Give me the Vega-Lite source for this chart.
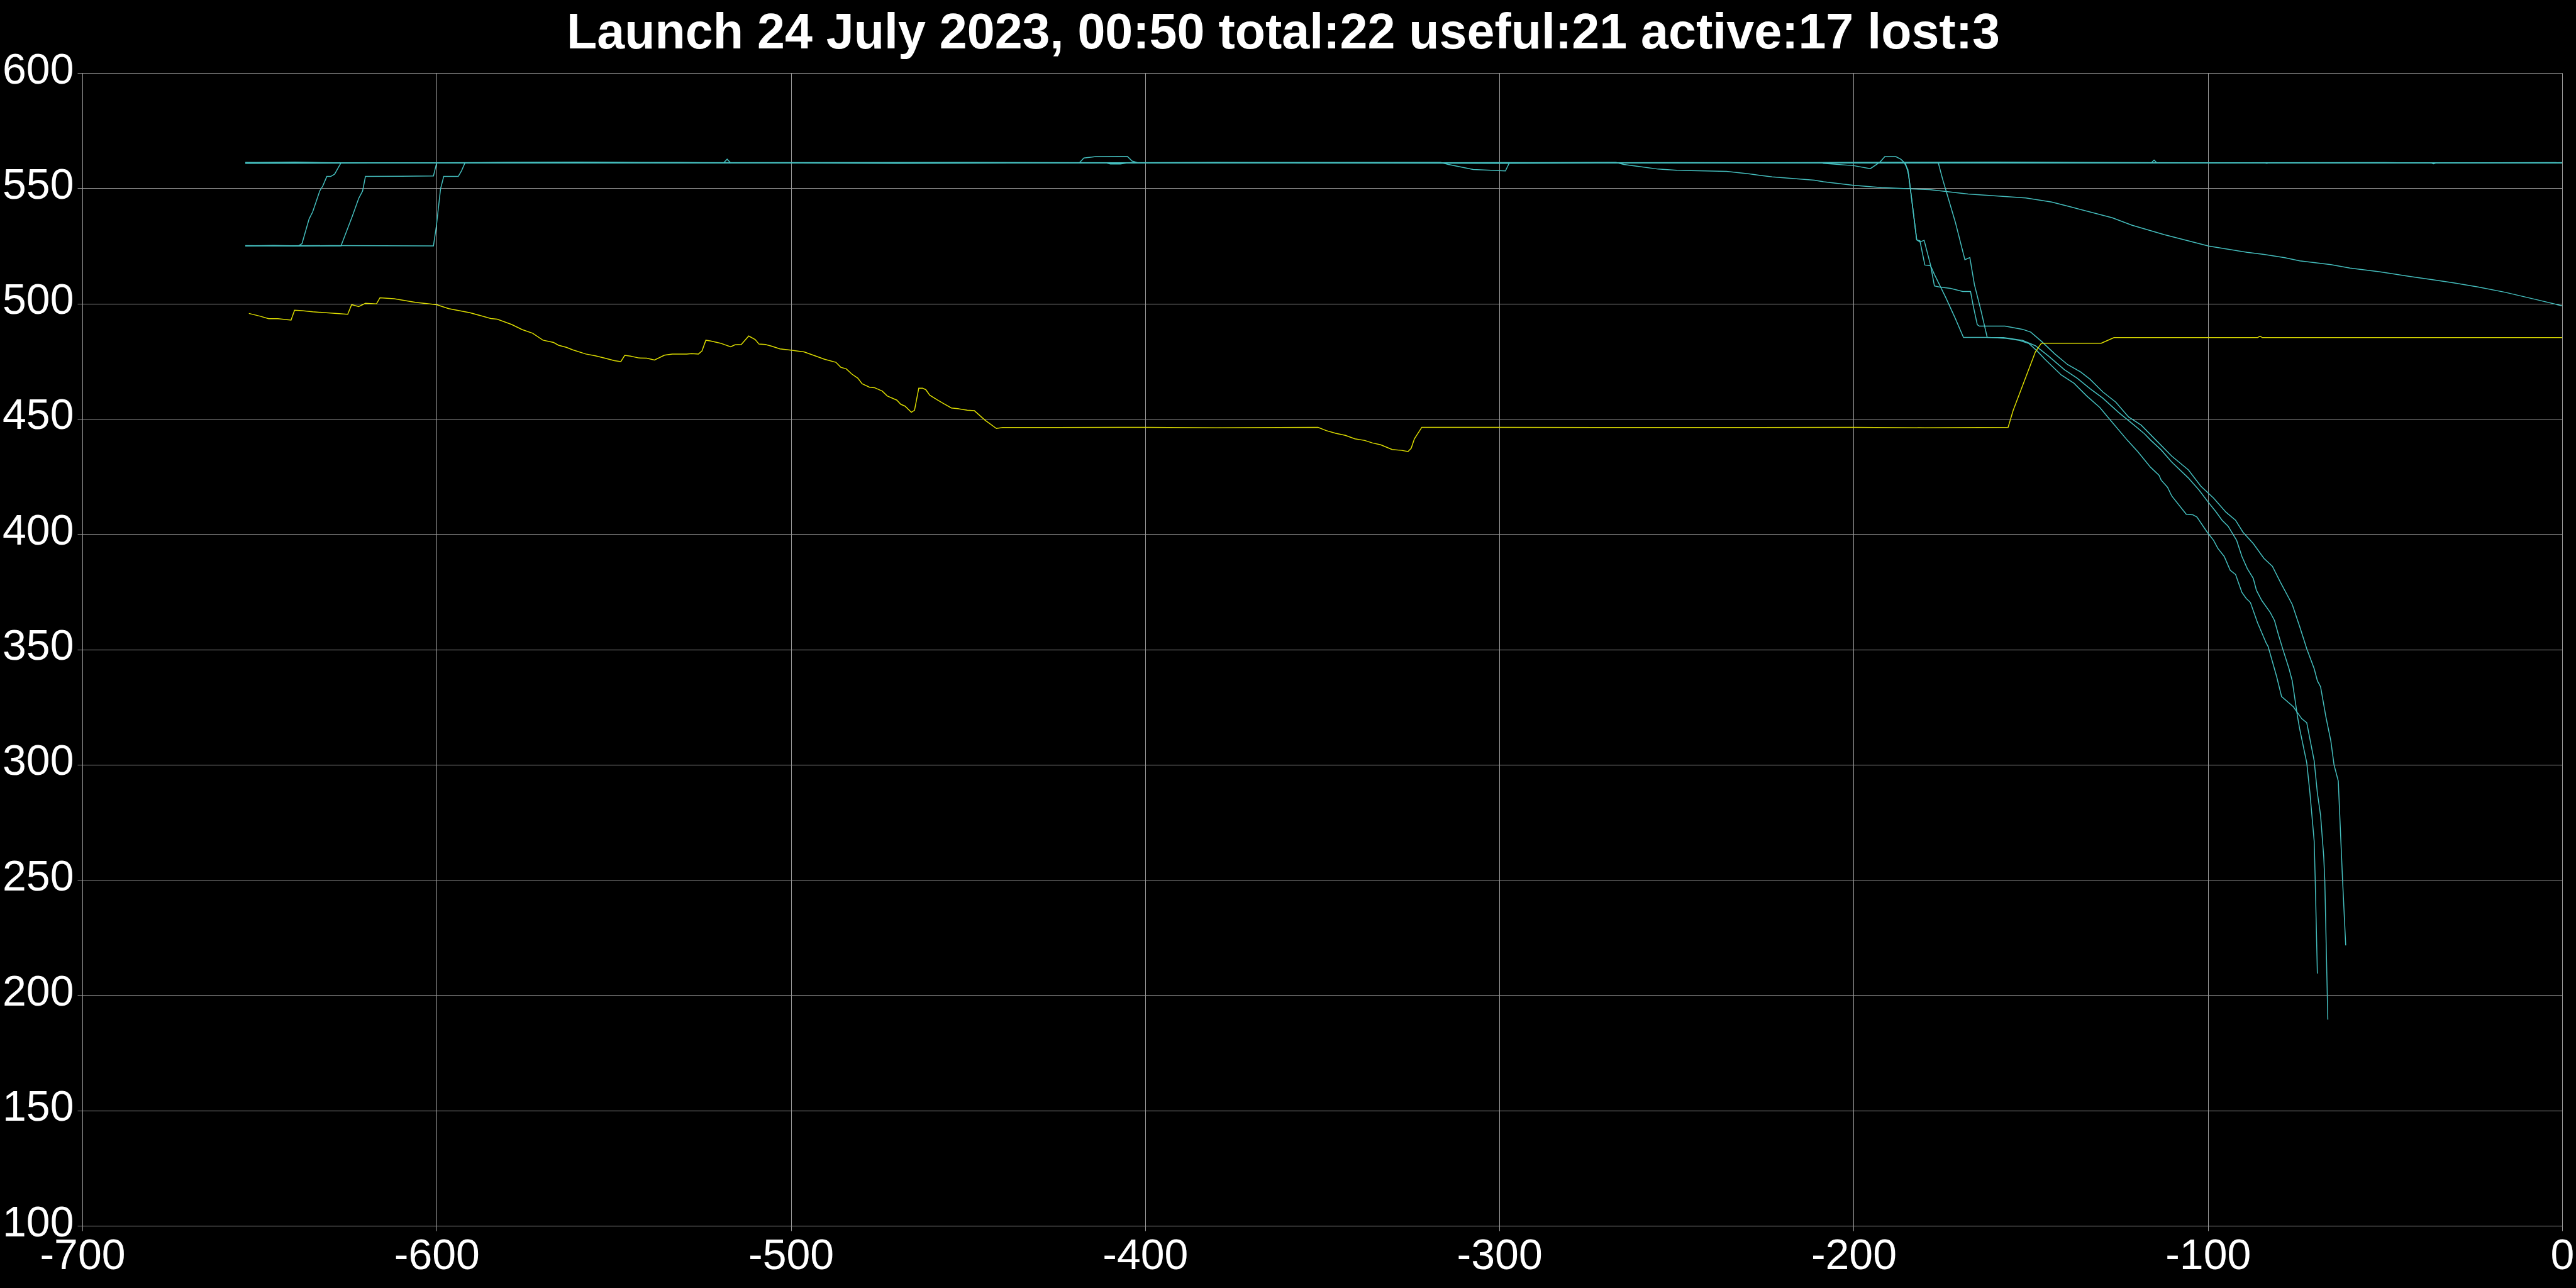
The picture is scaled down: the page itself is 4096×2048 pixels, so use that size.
{
"$schema": "https://vega.github.io/schema/vega-lite/v6.json",
"width": 3943, "height": 1833,
"autosize": {"type": "none"},
"padding": {"left": 131, "top": 116, "right": 22, "bottom": 99},
"background": "black",
"title": {"text": "Launch 24 July 2023, 00:50 total:22 useful:21 active:17 lost:3", "font": "Liberation Sans", "fontWeight": "bold", "fontSize": 79, "color": "white", "anchor": "middle", "baseline": "alphabetic", "offset": 0, "dy": 78, "dx": -62},
"config": {"view": {"stroke": null}},
"data": {"values": [
{"id":"s1","k":"c","x":-654,"y":525},{"id":"s1","k":"c","x":-646,"y":525.2},{"id":"s1","k":"c","x":-639,"y":525},{"id":"s1","k":"c","x":-638,"y":526},{"id":"s1","k":"c","x":-636,"y":536.7},{"id":"s1","k":"c","x":-635,"y":539.7},{"id":"s1","k":"c","x":-633,"y":548.8},{"id":"s1","k":"c","x":-632.1,"y":551.1},{"id":"s1","k":"c","x":-631,"y":555.1},{"id":"s1","k":"c","x":-629.9,"y":555.1},{"id":"s1","k":"c","x":-628.8,"y":556.1},{"id":"s1","k":"c","x":-627,"y":561},{"id":"s1","k":"c","x":-560,"y":561.1},{"id":"s1","k":"c","x":-480,"y":560.9},{"id":"s1","k":"c","x":-400,"y":561},{"id":"s1","k":"c","x":-300,"y":561.1},{"id":"s1","k":"c","x":-200,"y":561},{"id":"s1","k":"c","x":-100,"y":561},{"id":"s1","k":"c","x":0,"y":561},
{"id":"s2","k":"c","x":-654,"y":525.1},{"id":"s2","k":"c","x":-640,"y":524.9},{"id":"s2","k":"c","x":-627,"y":525},{"id":"s2","k":"c","x":-623.8,"y":537.9},{"id":"s2","k":"c","x":-622,"y":545.6},{"id":"s2","k":"c","x":-620.9,"y":548.8},{"id":"s2","k":"c","x":-620.1,"y":555.1},{"id":"s2","k":"c","x":-610,"y":555.2},{"id":"s2","k":"c","x":-600.9,"y":555.3},{"id":"s2","k":"c","x":-600,"y":561},{"id":"s2","k":"c","x":-500,"y":561},{"id":"s2","k":"c","x":-420,"y":561},{"id":"s2","k":"c","x":-316.6,"y":561.2},{"id":"s2","k":"c","x":-314.4,"y":560.3},{"id":"s2","k":"c","x":-307.4,"y":558.1},{"id":"s2","k":"c","x":-298.3,"y":557.5},{"id":"s2","k":"c","x":-297.2,"y":561},{"id":"s2","k":"c","x":-250,"y":561},{"id":"s2","k":"c","x":-190,"y":561},{"id":"s2","k":"c","x":-185.4,"y":561},{"id":"s2","k":"c","x":-184.5,"y":556},{"id":"s2","k":"c","x":-184,"y":549.9},{"id":"s2","k":"c","x":-182.2,"y":527.6},{"id":"s2","k":"c","x":-181.3,"y":527.2},{"id":"s2","k":"c","x":-179.9,"y":516.7},{"id":"s2","k":"c","x":-178.3,"y":516.4},{"id":"s2","k":"c","x":-177.2,"y":512.6},{"id":"s2","k":"c","x":-174,"y":502.6},{"id":"s2","k":"c","x":-171.3,"y":493.5},{"id":"s2","k":"c","x":-169,"y":485.3},{"id":"s2","k":"c","x":-162,"y":485.3},{"id":"s2","k":"c","x":-156.8,"y":484.9},{"id":"s2","k":"c","x":-153.2,"y":484},{"id":"s2","k":"c","x":-150.5,"y":482.6},{"id":"s2","k":"c","x":-148.2,"y":479.4},{"id":"s2","k":"c","x":-146,"y":475.8},{"id":"s2","k":"c","x":-141.4,"y":469},{"id":"s2","k":"c","x":-137.8,"y":465.4},{"id":"s2","k":"c","x":-134.2,"y":459.9},{"id":"s2","k":"c","x":-130.5,"y":454.9},{"id":"s2","k":"c","x":-127.8,"y":449.9},{"id":"s2","k":"c","x":-122.8,"y":440.8},{"id":"s2","k":"c","x":-119.7,"y":435.6},{"id":"s2","k":"c","x":-116.2,"y":429},{"id":"s2","k":"c","x":-113.8,"y":425.5},{"id":"s2","k":"c","x":-113.2,"y":423.4},{"id":"s2","k":"c","x":-111.4,"y":420.3},{"id":"s2","k":"c","x":-110.2,"y":416.5},{"id":"s2","k":"c","x":-106.1,"y":408.6},{"id":"s2","k":"c","x":-104.3,"y":408.4},{"id":"s2","k":"c","x":-103.1,"y":407.4},{"id":"s2","k":"c","x":-100.2,"y":400.8},{"id":"s2","k":"c","x":-98.4,"y":397.3},{"id":"s2","k":"c","x":-97.2,"y":393.8},{"id":"s2","k":"c","x":-95.4,"y":390.3},{"id":"s2","k":"c","x":-93.7,"y":384.3},{"id":"s2","k":"c","x":-92.2,"y":382.5},{"id":"s2","k":"c","x":-90.4,"y":374.7},{"id":"s2","k":"c","x":-89.2,"y":372.1},{"id":"s2","k":"c","x":-88,"y":370.3},{"id":"s2","k":"c","x":-86,"y":361.6},{"id":"s2","k":"c","x":-83.6,"y":352.9},{"id":"s2","k":"c","x":-83,"y":351.2},{"id":"s2","k":"c","x":-80.6,"y":338.2},{"id":"s2","k":"c","x":-79.2,"y":329.5},{"id":"s2","k":"c","x":-75.9,"y":325.1},{"id":"s2","k":"c","x":-74.7,"y":322.5},{"id":"s2","k":"c","x":-73.5,"y":319.9},{"id":"s2","k":"c","x":-72.1,"y":318.2},{"id":"s2","k":"c","x":-70,"y":301.6},{"id":"s2","k":"c","x":-69.1,"y":287.7},{"id":"s2","k":"c","x":-68.2,"y":278.1},{"id":"s2","k":"c","x":-67.3,"y":259.9},{"id":"s2","k":"c","x":-67,"y":249.4},{"id":"s2","k":"c","x":-66.15,"y":189.4},
{"id":"s3","k":"c","x":-654,"y":525},{"id":"s3","k":"c","x":-630,"y":525.1},{"id":"s3","k":"c","x":-601.5,"y":525},{"id":"s3","k":"c","x":-600.9,"y":525},{"id":"s3","k":"c","x":-600.1,"y":533.3},{"id":"s3","k":"c","x":-598.9,"y":549.7},{"id":"s3","k":"c","x":-598,"y":555.1},{"id":"s3","k":"c","x":-593.9,"y":555.1},{"id":"s3","k":"c","x":-593,"y":557.5},{"id":"s3","k":"c","x":-592,"y":561},{"id":"s3","k":"c","x":-500,"y":561},{"id":"s3","k":"c","x":-400,"y":561},{"id":"s3","k":"c","x":-300,"y":561},{"id":"s3","k":"c","x":-209,"y":561},{"id":"s3","k":"c","x":-208.5,"y":560.8},{"id":"s3","k":"c","x":-200,"y":559.8},{"id":"s3","k":"c","x":-195.3,"y":558.5},{"id":"s3","k":"c","x":-192.6,"y":561.3},{"id":"s3","k":"c","x":-191.2,"y":563.7},{"id":"s3","k":"c","x":-188.1,"y":563.7},{"id":"s3","k":"c","x":-186.7,"y":562.6},{"id":"s3","k":"c","x":-185.8,"y":561.3},{"id":"s3","k":"c","x":-184.7,"y":558.1},{"id":"s3","k":"c","x":-184,"y":549.9},{"id":"s3","k":"c","x":-182.2,"y":527.6},{"id":"s3","k":"c","x":-181.3,"y":526.7},{"id":"s3","k":"c","x":-180.1,"y":527.4},{"id":"s3","k":"c","x":-178.3,"y":516.7},{"id":"s3","k":"c","x":-177.2,"y":507.6},{"id":"s3","k":"c","x":-175.9,"y":507.2},{"id":"s3","k":"c","x":-172.7,"y":506.6},{"id":"s3","k":"c","x":-169.2,"y":505.2},{"id":"s3","k":"c","x":-167,"y":505.2},{"id":"s3","k":"c","x":-166.3,"y":499.4},{"id":"s3","k":"c","x":-165.1,"y":490.8},{"id":"s3","k":"c","x":-164.5,"y":490.2},{"id":"s3","k":"c","x":-157.3,"y":490.2},{"id":"s3","k":"c","x":-152.3,"y":488.8},{"id":"s3","k":"c","x":-150,"y":487.6},{"id":"s3","k":"c","x":-146.9,"y":483.5},{"id":"s3","k":"c","x":-143.2,"y":478.1},{"id":"s3","k":"c","x":-139.6,"y":473.5},{"id":"s3","k":"c","x":-136,"y":470.4},{"id":"s3","k":"c","x":-133.3,"y":467.2},{"id":"s3","k":"c","x":-129.7,"y":461.7},{"id":"s3","k":"c","x":-126,"y":457.2},{"id":"s3","k":"c","x":-122.4,"y":450.8},{"id":"s3","k":"c","x":-118.8,"y":447.2},{"id":"s3","k":"c","x":-114.7,"y":440.8},{"id":"s3","k":"c","x":-110.2,"y":433.8},{"id":"s3","k":"c","x":-105.5,"y":427.8},{"id":"s3","k":"c","x":-102,"y":420.8},{"id":"s3","k":"c","x":-98.4,"y":415.6},{"id":"s3","k":"c","x":-94.9,"y":409.5},{"id":"s3","k":"c","x":-92.2,"y":406},{"id":"s3","k":"c","x":-90.1,"y":400.8},{"id":"s3","k":"c","x":-87.2,"y":395.9},{"id":"s3","k":"c","x":-84.2,"y":389.5},{"id":"s3","k":"c","x":-81.8,"y":386},{"id":"s3","k":"c","x":-79.5,"y":379},{"id":"s3","k":"c","x":-76.2,"y":369.5},{"id":"s3","k":"c","x":-74.1,"y":359.9},{"id":"s3","k":"c","x":-72.1,"y":350.3},{"id":"s3","k":"c","x":-70,"y":341.6},{"id":"s3","k":"c","x":-69.1,"y":336.4},{"id":"s3","k":"c","x":-68.2,"y":333.8},{"id":"s3","k":"c","x":-66.7,"y":320.8},{"id":"s3","k":"c","x":-65.3,"y":310.3},{"id":"s3","k":"c","x":-64.4,"y":299.9},{"id":"s3","k":"c","x":-63.2,"y":292.9},{"id":"s3","k":"c","x":-62,"y":250.3},{"id":"s3","k":"c","x":-61.1,"y":221.6},
{"id":"s4","k":"c","x":-654,"y":561},{"id":"s4","k":"c","x":-600,"y":561},{"id":"s4","k":"c","x":-500,"y":561.1},{"id":"s4","k":"c","x":-400,"y":561},{"id":"s4","k":"c","x":-300,"y":561},{"id":"s4","k":"c","x":-200,"y":561},{"id":"s4","k":"c","x":-176.1,"y":561},{"id":"s4","k":"c","x":-174.9,"y":554},{"id":"s4","k":"c","x":-171.3,"y":535.3},{"id":"s4","k":"c","x":-168.6,"y":519},{"id":"s4","k":"c","x":-167.2,"y":519.9},{"id":"s4","k":"c","x":-165.9,"y":508.1},{"id":"s4","k":"c","x":-164.1,"y":497.2},{"id":"s4","k":"c","x":-162.3,"y":485.3},{"id":"s4","k":"c","x":-157.7,"y":485.2},{"id":"s4","k":"c","x":-152.3,"y":484},{"id":"s4","k":"c","x":-148.7,"y":481.7},{"id":"s4","k":"c","x":-145,"y":477.2},{"id":"s4","k":"c","x":-140.5,"y":471.3},{"id":"s4","k":"c","x":-136.9,"y":467.6},{"id":"s4","k":"c","x":-133.3,"y":463.1},{"id":"s4","k":"c","x":-129.7,"y":459},{"id":"s4","k":"c","x":-125.1,"y":452.6},{"id":"s4","k":"c","x":-121.5,"y":448.1},{"id":"s4","k":"c","x":-117.9,"y":443.5},{"id":"s4","k":"c","x":-116.2,"y":440.8},{"id":"s4","k":"c","x":-113.2,"y":436.5},{"id":"s4","k":"c","x":-110.2,"y":431.2},{"id":"s4","k":"c","x":-105.5,"y":424.3},{"id":"s4","k":"c","x":-102.5,"y":419.1},{"id":"s4","k":"c","x":-100.2,"y":414.4},{"id":"s4","k":"c","x":-97.8,"y":409.8},{"id":"s4","k":"c","x":-96,"y":406},{"id":"s4","k":"c","x":-94.3,"y":403.4},{"id":"s4","k":"c","x":-91.9,"y":397.3},{"id":"s4","k":"c","x":-90.4,"y":390.3},{"id":"s4","k":"c","x":-88.9,"y":385.1},{"id":"s4","k":"c","x":-87.2,"y":380.8},{"id":"s4","k":"c","x":-86.3,"y":375.6},{"id":"s4","k":"c","x":-84.8,"y":371.2},{"id":"s4","k":"c","x":-82.4,"y":366},{"id":"s4","k":"c","x":-81.2,"y":362.5},{"id":"s4","k":"c","x":-80.1,"y":356.4},{"id":"s4","k":"c","x":-78.9,"y":350.3},{"id":"s4","k":"c","x":-77.1,"y":341.6},{"id":"s4","k":"c","x":-76.2,"y":336.4},{"id":"s4","k":"c","x":-74.7,"y":320.8},{"id":"s4","k":"c","x":-74.1,"y":315.5},{"id":"s4","k":"c","x":-72.1,"y":300.8},{"id":"s4","k":"c","x":-71.2,"y":287.7},{"id":"s4","k":"c","x":-70,"y":266.8},{"id":"s4","k":"c","x":-69.7,"y":249.4},{"id":"s4","k":"c","x":-69.1,"y":209.4},
{"id":"s5","k":"c","x":-654,"y":561},{"id":"s5","k":"c","x":-550,"y":561},{"id":"s5","k":"c","x":-500,"y":561},{"id":"s5","k":"c","x":-420,"y":561},{"id":"s5","k":"c","x":-418.6,"y":561},{"id":"s5","k":"c","x":-417.3,"y":563.1},{"id":"s5","k":"c","x":-413.9,"y":563.7},{"id":"s5","k":"c","x":-405,"y":563.8},{"id":"s5","k":"c","x":-403.7,"y":561.8},{"id":"s5","k":"c","x":-402,"y":561},{"id":"s5","k":"c","x":-350,"y":561},{"id":"s5","k":"c","x":-300,"y":561},{"id":"s5","k":"c","x":-267.1,"y":561.2},{"id":"s5","k":"c","x":-264.9,"y":560.3},{"id":"s5","k":"c","x":-260.6,"y":559.4},{"id":"s5","k":"c","x":-255.2,"y":558.3},{"id":"s5","k":"c","x":-249.9,"y":557.8},{"id":"s5","k":"c","x":-235.9,"y":557.3},{"id":"s5","k":"c","x":-229.4,"y":556.2},{"id":"s5","k":"c","x":-223,"y":554.9},{"id":"s5","k":"c","x":-211.1,"y":553.5},{"id":"s5","k":"c","x":-208.5,"y":552.8},{"id":"s5","k":"c","x":-200.3,"y":551.3},{"id":"s5","k":"c","x":-192.2,"y":550.3},{"id":"s5","k":"c","x":-178.6,"y":549.4},{"id":"s5","k":"c","x":-167.7,"y":547.5},{"id":"s5","k":"c","x":-151.4,"y":545.8},{"id":"s5","k":"c","x":-144.1,"y":544},{"id":"s5","k":"c","x":-138.7,"y":541.9},{"id":"s5","k":"c","x":-127,"y":537.2},{"id":"s5","k":"c","x":-121.5,"y":534},{"id":"s5","k":"c","x":-112.4,"y":529.9},{"id":"s5","k":"c","x":-99.8,"y":524.9},{"id":"s5","k":"c","x":-88.9,"y":522.2},{"id":"s5","k":"c","x":-84.2,"y":521.3},{"id":"s5","k":"c","x":-78.3,"y":519.9},{"id":"s5","k":"c","x":-74.1,"y":518.5},{"id":"s5","k":"c","x":-65.3,"y":516.9},{"id":"s5","k":"c","x":-59.9,"y":515.4},{"id":"s5","k":"c","x":-51.7,"y":513.8},{"id":"s5","k":"c","x":-42.8,"y":511.7},{"id":"s5","k":"c","x":-36.9,"y":510.4},{"id":"s5","k":"c","x":-30.9,"y":509},{"id":"s5","k":"c","x":-23.8,"y":507.2},{"id":"s5","k":"c","x":-16.2,"y":504.9},{"id":"s5","k":"c","x":-7.3,"y":501.7},{"id":"s5","k":"c","x":0,"y":499},
{"id":"s6","k":"c","x":-654,"y":561.2},{"id":"s6","k":"c","x":-600,"y":560.9},{"id":"s6","k":"c","x":-531,"y":561.1},{"id":"s6","k":"c","x":-519,"y":561},{"id":"s6","k":"c","x":-518,"y":562.6},{"id":"s6","k":"c","x":-517,"y":561},{"id":"s6","k":"c","x":-450,"y":561.2},{"id":"s6","k":"c","x":-350,"y":560.9},{"id":"s6","k":"c","x":-250,"y":561.1},{"id":"s6","k":"c","x":-150,"y":560.9},{"id":"s6","k":"c","x":-116,"y":561},{"id":"s6","k":"c","x":-115.2,"y":562.2},{"id":"s6","k":"c","x":-114.4,"y":561},{"id":"s6","k":"c","x":-50,"y":561.1},{"id":"s6","k":"c","x":0,"y":561},
{"id":"s7","k":"c","x":-654,"y":560.8},{"id":"s7","k":"c","x":-580,"y":561.1},{"id":"s7","k":"c","x":-500,"y":561},{"id":"s7","k":"c","x":-411,"y":561},{"id":"s7","k":"c","x":-409.8,"y":560.5},{"id":"s7","k":"c","x":-407,"y":560.5},{"id":"s7","k":"c","x":-405,"y":561},{"id":"s7","k":"c","x":-300,"y":560.8},{"id":"s7","k":"c","x":-200,"y":561.2},{"id":"s7","k":"c","x":-84,"y":561},{"id":"s7","k":"c","x":-83.4,"y":560.8},{"id":"s7","k":"c","x":-82.8,"y":561},{"id":"s7","k":"c","x":-37,"y":561},{"id":"s7","k":"c","x":-36.3,"y":560.6},{"id":"s7","k":"c","x":-35.6,"y":561},{"id":"s7","k":"c","x":0,"y":561.1},
{"id":"s8","k":"c","x":-654,"y":561},{"id":"s8","k":"c","x":-640,"y":561.3},{"id":"s8","k":"c","x":-620,"y":560.9},{"id":"s8","k":"c","x":-560,"y":561.3},{"id":"s8","k":"c","x":-470,"y":560.8},{"id":"s8","k":"c","x":-380,"y":561.2},{"id":"s8","k":"c","x":-240,"y":560.9},{"id":"s8","k":"c","x":-160,"y":561.3},{"id":"s8","k":"c","x":-60,"y":560.9},{"id":"s8","k":"c","x":0,"y":561},
{"id":"y1","k":"y","x":-653,"y":495.7},{"id":"y1","k":"y","x":-650.1,"y":494.6},{"id":"y1","k":"y","x":-647.4,"y":493.4},{"id":"y1","k":"y","x":-644.8,"y":493.4},{"id":"y1","k":"y","x":-641.1,"y":492.8},{"id":"y1","k":"y","x":-640.1,"y":497.1},{"id":"y1","k":"y","x":-638,"y":496.9},{"id":"y1","k":"y","x":-635,"y":496.4},{"id":"y1","k":"y","x":-625.1,"y":495.3},{"id":"y1","k":"y","x":-624,"y":499.5},{"id":"y1","k":"y","x":-622,"y":498.7},{"id":"y1","k":"y","x":-620.1,"y":500.1},{"id":"y1","k":"y","x":-617,"y":499.8},{"id":"y1","k":"y","x":-616,"y":502.5},{"id":"y1","k":"y","x":-612,"y":502.1},{"id":"y1","k":"y","x":-606,"y":500.5},{"id":"y1","k":"y","x":-600,"y":499.5},{"id":"y1","k":"y","x":-596.6,"y":497.8},{"id":"y1","k":"y","x":-590.6,"y":496},{"id":"y1","k":"y","x":-584.7,"y":493.5},{"id":"y1","k":"y","x":-582.9,"y":493.2},{"id":"y1","k":"y","x":-578.8,"y":490.9},{"id":"y1","k":"y","x":-575.9,"y":488.7},{"id":"y1","k":"y","x":-572.9,"y":487.1},{"id":"y1","k":"y","x":-570,"y":484.1},{"id":"y1","k":"y","x":-567,"y":483.1},{"id":"y1","k":"y","x":-565.6,"y":481.9},{"id":"y1","k":"y","x":-563.4,"y":481},{"id":"y1","k":"y","x":-561.6,"y":479.9},{"id":"y1","k":"y","x":-557.9,"y":478.1},{"id":"y1","k":"y","x":-555.2,"y":477.3},{"id":"y1","k":"y","x":-552.5,"y":476.3},{"id":"y1","k":"y","x":-549.8,"y":475.2},{"id":"y1","k":"y","x":-548,"y":474.8},{"id":"y1","k":"y","x":-546.9,"y":477.5},{"id":"y1","k":"y","x":-545.3,"y":477.2},{"id":"y1","k":"y","x":-543,"y":476.4},{"id":"y1","k":"y","x":-540.7,"y":476.3},{"id":"y1","k":"y","x":-538.5,"y":475.5},{"id":"y1","k":"y","x":-535.7,"y":477.6},{"id":"y1","k":"y","x":-533.5,"y":478.1},{"id":"y1","k":"y","x":-529.4,"y":478.1},{"id":"y1","k":"y","x":-528,"y":478.3},{"id":"y1","k":"y","x":-526.1,"y":478.1},{"id":"y1","k":"y","x":-525.1,"y":479.4},{"id":"y1","k":"y","x":-524,"y":484.1},{"id":"y1","k":"y","x":-522.6,"y":483.7},{"id":"y1","k":"y","x":-519.9,"y":482.8},{"id":"y1","k":"y","x":-517,"y":481.2},{"id":"y1","k":"y","x":-515.8,"y":482.1},{"id":"y1","k":"y","x":-514,"y":482.2},{"id":"y1","k":"y","x":-511.9,"y":485.9},{"id":"y1","k":"y","x":-510.1,"y":484.4},{"id":"y1","k":"y","x":-509,"y":482.4},{"id":"y1","k":"y","x":-507.2,"y":482.2},{"id":"y1","k":"y","x":-505.4,"y":481.5},{"id":"y1","k":"y","x":-503.1,"y":480.3},{"id":"y1","k":"y","x":-500,"y":479.8},{"id":"y1","k":"y","x":-496.3,"y":479},{"id":"y1","k":"y","x":-493.2,"y":477.3},{"id":"y1","k":"y","x":-490.5,"y":475.8},{"id":"y1","k":"y","x":-487.3,"y":474.5},{"id":"y1","k":"y","x":-485.9,"y":472.3},{"id":"y1","k":"y","x":-484.4,"y":471.7},{"id":"y1","k":"y","x":-482.8,"y":469.4},{"id":"y1","k":"y","x":-481.1,"y":467.6},{"id":"y1","k":"y","x":-479.9,"y":465.2},{"id":"y1","k":"y","x":-477.8,"y":463.7},{"id":"y1","k":"y","x":-476.4,"y":463.5},{"id":"y1","k":"y","x":-474.2,"y":462},{"id":"y1","k":"y","x":-472.8,"y":459.9},{"id":"y1","k":"y","x":-470.1,"y":458.1},{"id":"y1","k":"y","x":-469,"y":456.3},{"id":"y1","k":"y","x":-467.8,"y":455.5},{"id":"y1","k":"y","x":-466,"y":452.8},{"id":"y1","k":"y","x":-465.1,"y":453.7},{"id":"y1","k":"y","x":-463.9,"y":463.3},{"id":"y1","k":"y","x":-462.8,"y":463.3},{"id":"y1","k":"y","x":-461.9,"y":462.6},{"id":"y1","k":"y","x":-460.8,"y":460.2},{"id":"y1","k":"y","x":-458.8,"y":458.3},{"id":"y1","k":"y","x":-457,"y":456.7},{"id":"y1","k":"y","x":-454.7,"y":454.7},{"id":"y1","k":"y","x":-452.9,"y":454.4},{"id":"y1","k":"y","x":-450.2,"y":453.7},{"id":"y1","k":"y","x":-448.2,"y":453.5},{"id":"y1","k":"y","x":-445.2,"y":449.4},{"id":"y1","k":"y","x":-442,"y":445.8},{"id":"y1","k":"y","x":-440.2,"y":446.25},{"id":"y1","k":"y","x":-425,"y":446.2},{"id":"y1","k":"y","x":-400,"y":446.3},{"id":"y1","k":"y","x":-380,"y":446.1},{"id":"y1","k":"y","x":-351.2,"y":446.3},{"id":"y1","k":"y","x":-348.9,"y":444.9},{"id":"y1","k":"y","x":-346.2,"y":443.7},{"id":"y1","k":"y","x":-343.5,"y":442.8},{"id":"y1","k":"y","x":-340.8,"y":441.3},{"id":"y1","k":"y","x":-338,"y":440.6},{"id":"y1","k":"y","x":-335.8,"y":439.5},{"id":"y1","k":"y","x":-333.5,"y":438.7},{"id":"y1","k":"y","x":-330.3,"y":436.7},{"id":"y1","k":"y","x":-327.6,"y":436.3},{"id":"y1","k":"y","x":-325.8,"y":435.8},{"id":"y1","k":"y","x":-324.9,"y":437.2},{"id":"y1","k":"y","x":-324,"y":441.3},{"id":"y1","k":"y","x":-321.9,"y":446.3},{"id":"y1","k":"y","x":-300,"y":446.3},{"id":"y1","k":"y","x":-250,"y":446.2},{"id":"y1","k":"y","x":-200,"y":446.3},{"id":"y1","k":"y","x":-180,"y":446.1},{"id":"y1","k":"y","x":-156.4,"y":446.3},{"id":"y1","k":"y","x":-155,"y":453.5},{"id":"y1","k":"y","x":-150.5,"y":471.7},{"id":"y1","k":"y","x":-148.7,"y":479},{"id":"y1","k":"y","x":-147,"y":482.8},{"id":"y1","k":"y","x":-130.1,"y":482.8},{"id":"y1","k":"y","x":-128.3,"y":484},{"id":"y1","k":"y","x":-126.5,"y":485.2},{"id":"y1","k":"y","x":-86,"y":485.2},{"id":"y1","k":"y","x":-85.3,"y":485.8},{"id":"y1","k":"y","x":-84.6,"y":485.2},{"id":"y1","k":"y","x":0,"y":485.2}
]},
"mark": {"type": "line", "strokeWidth": 1.5, "clip": true},
"encoding": {
"x": {"field": "x", "type": "quantitative", "scale": {"domain": [-700, 0], "nice": false, "zero": false},
 "axis": {"values": [-700,-600,-500,-400,-300,-200,-100,0], "title": null, "grid": true, "gridColor": "#9a9a9a", "gridWidth": 1, "domainColor": "#9a9a9a", "tickColor": "#9a9a9a", "tickSize": 8, "labelFont": "Liberation Sans", "labelFontSize": 68, "labelColor": "white", "labelPadding": 6, "labelFlush": false, "labelOverlap": false, "labelExpr": "toString(datum.value)"}},
"y": {"field": "y", "type": "quantitative", "scale": {"domain": [100, 600], "nice": false, "zero": false},
 "axis": {"values": [100,150,200,250,300,350,400,450,500,550,600], "title": null, "grid": true, "gridColor": "#9a9a9a", "gridWidth": 1, "domainColor": "#9a9a9a", "tickColor": "#9a9a9a", "tickSize": 8, "labelFont": "Liberation Sans", "labelFontSize": 68, "labelColor": "white", "labelPadding": 6, "labelOffset": -4, "labelFlush": false, "labelOverlap": false, "labelExpr": "toString(datum.value)"}},
"color": {"field": "k", "type": "nominal", "scale": {"domain": ["c", "y"], "range": ["#45bfbf", "#dddd00"]}, "legend": null},
"detail": {"field": "id"}
}
}
